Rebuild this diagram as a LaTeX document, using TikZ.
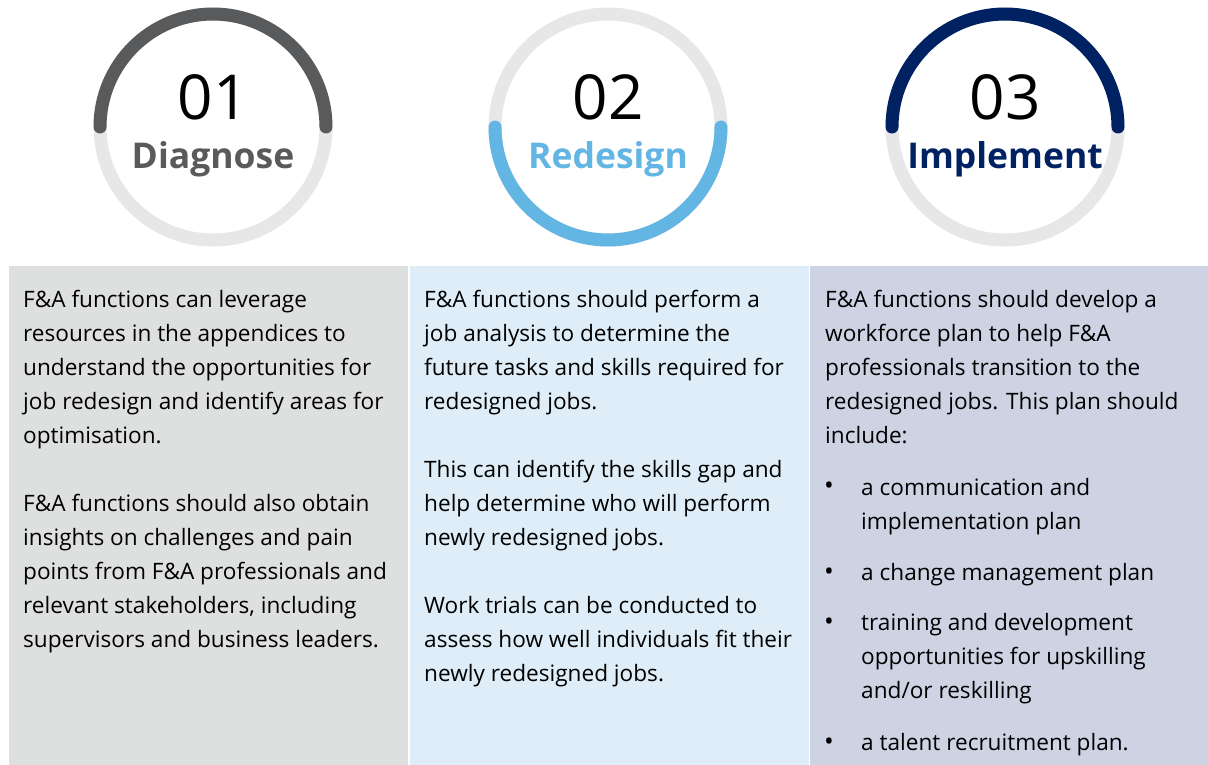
\documentclass[tikz,border=0pt]{standalone}
\usepackage{fontspec}
\setmainfont{Open Sans}
\definecolor{diaggray}{RGB}{89,90,92}
\definecolor{redblue}{RGB}{99,181,228}
\definecolor{implnavy}{RGB}{0,33,98}
\definecolor{ringgray}{RGB}{231,231,231}
\definecolor{panelgray}{RGB}{222,223,223}
\definecolor{panelblue}{RGB}{222,237,247}
\definecolor{panelnavy}{RGB}{206,211,228}
\tikzstyle{ring}=[draw=ringgray,line width=13pt]
\tikzstyle{halfarc}=[line width=13pt,line cap=round]
\tikzstyle{number}=[anchor=base,inner sep=0pt,font=\fontsize{62}{62}\selectfont]
\tikzstyle{stage}=[anchor=base,inner sep=0pt,font=\fontsize{35.5}{35.5}\selectfont\bfseries]
\tikzstyle{body}=[anchor=north west,inner sep=0pt,align=left,font=\fontsize{22.6}{34}\selectfont]
\tikzstyle{dot}=[anchor=base west,inner sep=0pt,font=\fontsize{26}{34}\selectfont]

\begin{document}
\begin{tikzpicture}[x=1pt,y=-1pt]
    \useasboundingbox (0,0) rectangle (1208,765);
    % panels
    \fill[panelgray] (9,266) rectangle (408,765);
    \fill[panelblue] (410,266) rectangle (809,765);
    \fill[panelnavy] (810,266) rectangle (1208,765);

    % rings
    \coordinate (c1) at (213,127);
    \coordinate (c2) at (608,127);
    \coordinate (c3) at (1005,127);
    \foreach \c in {c1,c2,c3}
    \draw[ring] (\c) circle[radius=113pt];
    \draw[halfarc,diaggray] ([shift={(180:113pt)}]c1) arc[start angle=180,end angle=0,radius=113pt];
    \draw[halfarc,redblue] ([shift={(180:113pt)}]c2) arc[start angle=180,end angle=360,radius=113pt];
    \draw[halfarc,implnavy] ([shift={(180:113pt)}]c3) arc[start angle=180,end angle=0,radius=113pt];

    \node[number] (n1) at (213,120) {01};
    \node[number] (n2) at (608,120) {02};
    \node[number] (n3) at (1005,120) {03};
    \node[stage,diaggray] (s1) at (213,169) {Diagnose};
    \node[stage,redblue] (s2) at (608,169) {Redesign};
    \node[stage,implnavy] (s3) at (1005,169) {Implement};

    % texts
    \node[body] (t1) at (23,290) {F\&A functions can leverage\\
        resources in the appendices to\\
        understand the opportunities for\\
        job redesign and identify areas for\\
        optimisation.\\[34pt]
        F\&A functions should also obtain\\
        insights on challenges and pain\\
        points from F\&A professionals and\\
        relevant stakeholders, including\\
        supervisors and business leaders.};
    \node[body] (t2) at (424,290) {F\&A functions should perform a\\
        job analysis to determine the\\
        future tasks and skills required for\\
        redesigned jobs.\\[34pt]
        This can identify the skills gap and\\
        help determine who will perform\\
        newly redesigned jobs.\\[34pt]
        Work trials can be conducted to\\
        assess how well individuals fit their\\
        newly redesigned jobs.};
    \node[body] (t3) at (825,290) {F\&A functions should develop a\\
        workforce plan to help F\&A\\
        professionals transition to the\\
        redesigned jobs. This plan should\\
        include:};
    \node[body] (t4) at (861,478) {a communication and\\
        implementation plan\\[17pt]
        a change management plan\\[16pt]
        training and development\\
        opportunities for upskilling\\
        and/or reskilling\\[18pt]
        a talent recruitment plan.};
    \foreach \i/\y in {1/494,2/580,3/630,4/750}
    \node[dot] (b\i) at (824,\y) {•};
\end{tikzpicture}
\end{document}
